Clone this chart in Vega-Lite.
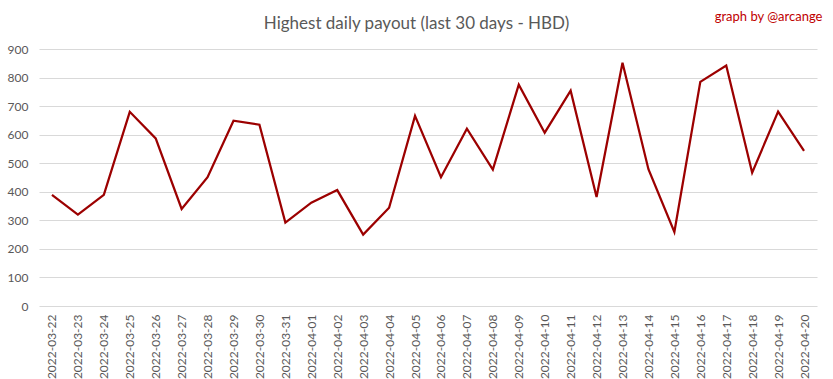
{
  "$schema": "https://vega.github.io/schema/vega-lite/v6.json",
  "autosize": "none",
  "width": 778,
  "height": 257,
  "padding": {"left": 39, "top": 49, "right": 16, "bottom": 73},
  "background": "#ffffff",
  "config": {
    "view": {"stroke": null},
    "font": "Lato",
    "axis": {"labelFont": "Lato", "titleFont": "Lato"}
  },
  "data": {
    "values": [
      {"date": "2022-03-22", "payout": 389},
      {"date": "2022-03-23", "payout": 320},
      {"date": "2022-03-24", "payout": 389},
      {"date": "2022-03-25", "payout": 680},
      {"date": "2022-03-26", "payout": 587},
      {"date": "2022-03-27", "payout": 340},
      {"date": "2022-03-28", "payout": 451},
      {"date": "2022-03-29", "payout": 649},
      {"date": "2022-03-30", "payout": 635},
      {"date": "2022-03-31", "payout": 292},
      {"date": "2022-04-01", "payout": 362},
      {"date": "2022-04-02", "payout": 406},
      {"date": "2022-04-03", "payout": 250},
      {"date": "2022-04-04", "payout": 344},
      {"date": "2022-04-05", "payout": 666},
      {"date": "2022-04-06", "payout": 451},
      {"date": "2022-04-07", "payout": 621},
      {"date": "2022-04-08", "payout": 478},
      {"date": "2022-04-09", "payout": 775},
      {"date": "2022-04-10", "payout": 607},
      {"date": "2022-04-11", "payout": 754},
      {"date": "2022-04-12", "payout": 382},
      {"date": "2022-04-13", "payout": 852},
      {"date": "2022-04-14", "payout": 479},
      {"date": "2022-04-15", "payout": 259},
      {"date": "2022-04-16", "payout": 785},
      {"date": "2022-04-17", "payout": 842},
      {"date": "2022-04-18", "payout": 467},
      {"date": "2022-04-19", "payout": 681},
      {"date": "2022-04-20", "payout": 543}
    ]
  },
  "resolve": {"axis": {"x": "independent", "y": "independent"}},
  "layer": [
    {
      "mark": {"type": "line", "color": "#9c0000", "strokeWidth": 2.25, "strokeJoin": "miter"},
      "encoding": {
        "x": {
          "field": "date",
          "type": "ordinal",
          "scale": {"type": "point", "padding": 0.5},
          "axis": {
            "orient": "bottom",
            "title": null,
            "labelAngle": -90,
            "labelAlign": "right",
            "labelBaseline": "middle",
            "labelPadding": 8,
            "labelFontSize": 12,
            "labelColor": "#595959",
            "ticks": false,
            "domain": false,
            "grid": false
          }
        },
        "y": {
          "field": "payout",
          "type": "quantitative",
          "scale": {"domain": [0, 900], "nice": false},
          "axis": {
            "orient": "left",
            "title": null,
            "values": [0, 100, 200, 300, 400, 500, 600, 700, 800, 900],
            "labelOverlap": false,
            "labelFontSize": 12,
            "labelColor": "#595959",
            "labelPadding": 11,
            "ticks": false,
            "domain": false,
            "grid": true,
            "gridColor": "#d9d9d9",
            "gridWidth": 1
          }
        }
      }
    },
    {
      "mark": {"type": "point", "opacity": 0},
      "encoding": {
        "x": {
          "field": "date",
          "type": "ordinal",
          "scale": {"type": "point", "padding": 0.5},
          "axis": {
            "orient": "top",
            "labels": false,
            "ticks": false,
            "domain": false,
            "grid": false,
            "title": "Highest daily payout (last 30 days - HBD)",
            "titleFont": "Lato",
            "titleFontSize": 17,
            "titleFontWeight": "normal",
            "titleColor": "#595959",
            "titleAlign": "center",
            "titleBaseline": "alphabetic",
            "titleX": 377,
            "titleY": -21
          }
        },
        "y": {
          "field": "payout",
          "type": "quantitative",
          "axis": {
            "orient": "right",
            "labels": false,
            "ticks": false,
            "domain": false,
            "grid": false,
            "title": "graph by @arcange",
            "titleAngle": 0,
            "titleFont": "Lato",
            "titleFontSize": 13,
            "titleFontWeight": "normal",
            "titleColor": "#c00000",
            "titleAlign": "right",
            "titleBaseline": "alphabetic",
            "titleX": 5,
            "titleY": -29
          }
        }
      }
    }
  ]
}
